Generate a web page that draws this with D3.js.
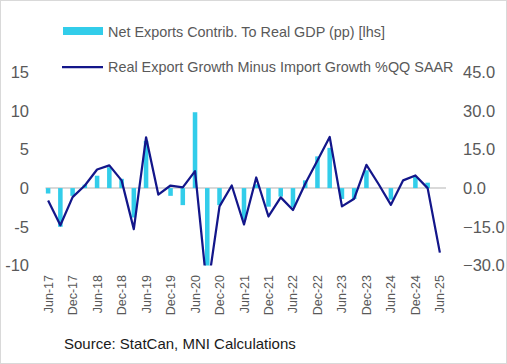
<!DOCTYPE html>
<html>
<meta charset="utf-8">
<style>
  body { margin: 0; background: #fff; }
  svg { display: block; font-family: "Liberation Sans", Arial, sans-serif; }
  .tick-label { fill: #595959; font-size: 16.5px; }
  .x-label { fill: #595959; font-size: 12.5px; }
  .legend-text { fill: #595959; font-size: 14.4px; }
</style>
<body>
<script src="https://d3js.org/d3.v7.min.js"></script>
<script>
  let width = 507,
    height = 364;

  // quarterly categories, Jun-17 .. Jun-25
  let quarters = ["Jun-17","Sep-17","Dec-17","Mar-18","Jun-18","Sep-18","Dec-18","Mar-19",
    "Jun-19","Sep-19","Dec-19","Mar-20","Jun-20","Sep-20","Dec-20","Mar-21",
    "Jun-21","Sep-21","Dec-21","Mar-22","Jun-22","Sep-22","Dec-22","Mar-23",
    "Jun-23","Sep-23","Dec-23","Mar-24","Jun-24","Sep-24","Dec-24","Mar-25","Jun-25"];

  // Net exports contribution to real GDP (pp), left axis
  let netExports = [-0.7, -5.0, -1.0, 0.45, 1.6, 2.7, 1.2, -3.8,
    6.1, 0, -1.0, -2.2, 9.8, -12.5, -2.2, 0,
    -4.1, 0.5, -2.4, -1.1, -2.5, 1.0, 4.1, 5.2,
    -1.4, -1.4, 2.3, 0, -1.5, 0, 1.45, 0.7, null];

  // Real export growth minus import growth, %QQ SAAR, right axis
  let growthGap = [-4.8, -14.4, -3.5, 1.0, 7.2, 8.8, 3.0, -15.9,
    19.7, -2.5, 1.0, 0.3, 6.6, -40, -7.1, 1.0,
    -14.1, 4.1, -11.0, -3.6, -8.5, 1.7, 10.7, 19.8,
    -7.1, -4.1, 9.0, 1.5, -6.5, 3.0, 4.9, 0.0, -25.0];

  let leftTicks = [15, 10, 5, 0, -5, -10];
  let rightTicks = [45, 30, 15, 0, -15, -30];

  let plot = { left: 42, right: 446, top: 72, bottom: 265.5 };

  let svg = d3.select("body").append("svg")
    .attr("width", width)
    .attr("height", height);

  // chart border
  svg.append("rect")
    .attr("x", 0.5).attr("y", 0.5)
    .attr("width", width - 1).attr("height", height - 1)
    .attr("fill", "#fff")
    .attr("stroke", "#d9d9d9");

  let x = d3.scaleBand()
    .domain(quarters)
    .range([plot.left, plot.right])
    .paddingInner(0.63)
    .paddingOuter(0.315);

  let xc = d => x(d) + x.bandwidth() / 2;

  let yLeft = d3.scaleLinear().domain([-10, 15]).range([plot.bottom, plot.top]);
  let yRight = d3.scaleLinear().domain([-30, 45]).range([plot.bottom, plot.top]);

  svg.append("clipPath").attr("id", "plotClip")
    .append("rect")
    .attr("x", plot.left).attr("y", plot.top)
    .attr("width", plot.right - plot.left)
    .attr("height", plot.bottom - plot.top);

  // zero line
  svg.append("line")
    .attr("x1", 45.5).attr("x2", plot.right)
    .attr("y1", yLeft(0)).attr("y2", yLeft(0))
    .attr("stroke", "#d9d9d9")
    .attr("stroke-width", 2);

  let g = svg.append("g").attr("clip-path", "url(#plotClip)");

  g.selectAll(".bar")
    .data(quarters.map((q, i) => ({ q: q, v: netExports[i] })).filter(d => d.v != null && d.v !== 0))
    .join("rect")
    .attr("class", "bar")
    .attr("x", d => x(d.q))
    .attr("width", x.bandwidth())
    .attr("y", d => yLeft(Math.max(0, d.v)))
    .attr("height", d => Math.abs(yLeft(d.v) - yLeft(0)))
    .attr("fill", "#32cdea");

  let line = d3.line()
    .x((d, i) => xc(quarters[i]))
    .y(d => yRight(d));

  g.append("path")
    .datum(growthGap)
    .attr("d", line)
    .attr("fill", "none")
    .attr("stroke", "#13168a")
    .attr("stroke-width", 2.25)
    .attr("stroke-linejoin", "round");

  // left axis labels
  svg.selectAll(".ly")
    .data(leftTicks)
    .join("text")
    .attr("class", "tick-label")
    .attr("x", 29)
    .attr("y", d => yLeft(d))
    .attr("dy", "0.36em")
    .attr("text-anchor", "end")
    .text(d => d);

  // right axis labels
  svg.selectAll(".ry")
    .data(rightTicks)
    .join("text")
    .attr("class", "tick-label")
    .attr("x", 463)
    .attr("y", d => yRight(d))
    .attr("dy", "0.36em")
    .attr("text-anchor", "start")
    .text(d => d3.format(".1f")(d).replace("-", "-"));

  // x labels every second quarter
  svg.selectAll(".xl")
    .data(quarters.filter((q, i) => i % 2 === 0))
    .join("text")
    .attr("class", "x-label")
    .attr("transform", d => `translate(${xc(d) + 4.5},275) rotate(-90)`)
    .attr("text-anchor", "end")
    .text(d => d);

  // legend
  svg.append("rect")
    .attr("x", 63).attr("y", 27)
    .attr("width", 40).attr("height", 8)
    .attr("fill", "#32cdea");
  svg.append("text")
    .attr("class", "legend-text")
    .attr("x", 108).attr("y", 36.5)
    .text("Net Exports Contrib. To Real GDP (pp) [lhs]");

  svg.append("line")
    .attr("x1", 62).attr("x2", 103)
    .attr("y1", 67).attr("y2", 67)
    .attr("stroke", "#13168a")
    .attr("stroke-width", 2.25);
  svg.append("text")
    .attr("class", "legend-text")
    .attr("x", 108).attr("y", 72)
    .text("Real Export Growth Minus Import Growth %QQ SAAR");

  // source
  svg.append("text")
    .attr("x", 64).attr("y", 349)
    .attr("fill", "#1a1a1a")
    .style("font-size", "15px")
    .text("Source: StatCan, MNI Calculations");
</script>
</body>
</html>
